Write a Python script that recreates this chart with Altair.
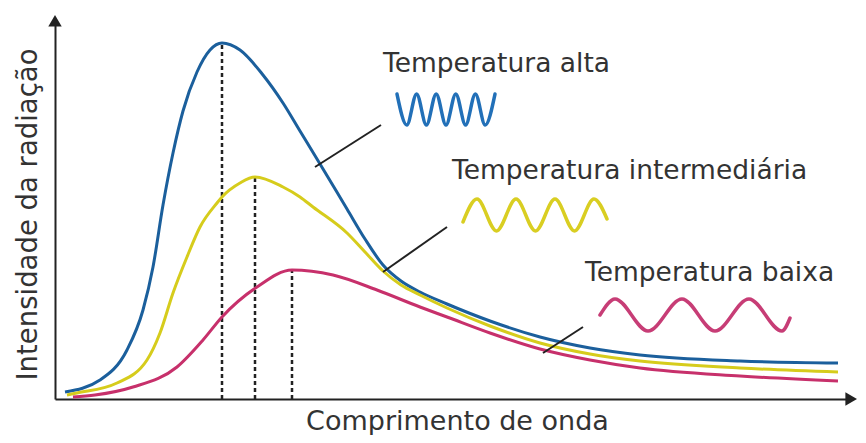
import altair as alt
import pandas as pd

# ---- values (arbitrary units: wavelength on x, intensity on y) ----
series = ["Temperatura alta", "Temperatura intermediária", "Temperatura baixa"]

alta_x = [10, 45, 72, 88, 98, 108, 118, 128, 142, 155, 167, 185, 208, 228, 245, 262, 292, 310, 328, 346, 365, 392, 435, 485, 535, 585, 685, 783]
alta_y = [7, 19, 49, 89, 132, 194, 246, 288, 327, 349, 356, 349, 324, 296, 268, 240, 190, 160, 134, 118, 107, 95, 78, 62, 51, 44, 38, 36]

inter_x = [12, 22, 62, 92, 105, 118, 132, 145, 162, 167, 185, 200, 228, 245, 258, 292, 310, 328, 346, 365, 392, 435, 485, 535, 585, 685, 783]
inter_y = [4, 6, 16, 39, 66, 106, 142, 172, 196, 202, 216, 222, 212, 202, 192, 166, 147, 128, 114, 104, 91, 73, 56, 45, 38, 31, 27]

baixa_x = [18, 40, 78, 122, 148, 167, 202, 237, 278, 322, 365, 392, 435, 485, 535, 585, 685, 783]
baixa_y = [2, 4, 12, 32, 59, 82, 112, 129, 124, 109, 92, 82, 66, 50, 39, 31, 23, 18]

# peaks (wavelength of maximum emission) with dashed drop lines
peak_x = [167, 200, 237]
peak_y = [356, 222, 129]

# wave pictograms (extrema points)
wave_alta_x = [342, 351.8, 361.6, 371.4, 381.2, 391, 400.8, 410.6, 420.4, 430.2, 440]
wave_alta_y = [305, 274, 305, 274, 305, 274, 305, 274, 305, 274, 305]
wave_inter_x = [408, 422, 441.5, 461, 480.5, 500, 519.5, 539, 552]
wave_inter_y = [177, 200, 168, 200, 168, 200, 168, 200, 180]
wave_baixa_x = [545, 560, 593, 627, 660, 694, 727, 735]
wave_baixa_y = [84, 100, 68, 100, 68, 100, 68, 81]

# label anchors and leader lines
label_x = [328, 397, 530]
label_y = [327, 220, 118]
leader_x1 = [260, 328, 488]
leader_y1 = [232, 127, 46]
leader_x2 = [326, 392, 528]
leader_y2 = [274, 172, 72]

curve_colors = ["#1b5f9c", "#d6cc1c", "#c7306b"]
wave_colors = ["#2270b8", "#d9ce22", "#c73d76"]

# ---- tables ----
rows = []
for name, xs, ys in zip(series, [alta_x, inter_x, baixa_x], [alta_y, inter_y, baixa_y]):
    for i, (a, b) in enumerate(zip(xs, ys)):
        rows.append({"s": name, "x": a, "y": b, "i": i})
curves = pd.DataFrame(rows)

rows = []
for name, xs, ys in zip(series, [wave_alta_x, wave_inter_x, wave_baixa_x], [wave_alta_y, wave_inter_y, wave_baixa_y]):
    for i, (a, b) in enumerate(zip(xs, ys)):
        rows.append({"s": "onda " + name, "x": a, "y": b, "i": i})
waves = pd.DataFrame(rows)

drops = pd.DataFrame({"x": peak_x, "y": [0, 0, 0], "y2": peak_y})
leaders = pd.DataFrame({"x": leader_x1, "y": leader_y1, "x2": leader_x2, "y2": leader_y2})
labels = pd.DataFrame({"x": label_x, "y": label_y, "t": series})
arrows = pd.DataFrame({"x": [796.2, 0], "y": [0, 378.2], "shape": ["triangle-right", "triangle-up"]})

xs_ = alt.Scale(domain=[0, 797], nice=False, zero=False)
ys_ = alt.Scale(domain=[0, 379], nice=False, zero=False)

xaxis = alt.Axis(title="Comprimento de onda", domain=True, domainColor="#222", domainWidth=2,
                 ticks=False, labels=False, grid=False, titleFont="DejaVu Sans", titleFontSize=27,
                 titleFontWeight="normal", titleColor="#333", titlePadding=9, titleX=402)
yaxis = alt.Axis(title="Intensidade da radiação", domain=True, domainColor="#222", domainWidth=2,
                 ticks=False, labels=False, grid=False, titleFont="DejaVu Sans", titleFontSize=27.5,
                 titleFontWeight="normal", titleColor="#333", titlePadding=13, titleY=194)

X = alt.X("x:Q", scale=xs_, axis=xaxis)
Y = alt.Y("y:Q", scale=ys_, axis=yaxis)

color = alt.Color("s:N", scale=alt.Scale(domain=series + ["onda " + s for s in series],
                                         range=curve_colors + wave_colors), legend=None)

drop_layer = alt.Chart(drops).mark_rule(strokeDash=[4, 3], strokeWidth=2.5, color="#222").encode(
    x=X, y=Y, y2="y2:Q")

curve_layer = alt.Chart(curves).mark_line(interpolate="monotone", strokeWidth=3).encode(
    x=X, y=Y, color=color, order="i:Q")

leader_layer = alt.Chart(leaders).mark_rule(strokeWidth=2, color="#222").encode(
    x=X, y=Y, x2="x2:Q", y2="y2:Q")

wave_layer = alt.Chart(waves).mark_line(interpolate="monotone", strokeWidth=3.5, strokeCap="round").encode(
    x=X, y=Y, color=color, order="i:Q")

label_layer = alt.Chart(labels).mark_text(align="left", baseline="alphabetic", font="DejaVu Sans",
                                          fontSize=26.5, color="#333").encode(x=X, y=Y, text="t:N")

arrow_layer = alt.Chart(arrows).mark_point(filled=True, size=180, opacity=1, color="#222").encode(
    x=X, y=Y, shape=alt.Shape("shape:N", scale=None))

chart = alt.layer(drop_layer, curve_layer, leader_layer, wave_layer, label_layer, arrow_layer).properties(
    width=797, height=379,
    autosize=alt.AutoSizeParams(type="none"),
    padding={"left": 47, "top": 12, "right": 6, "bottom": 36},
    background="white",
).configure_view(stroke=None)

chart.save("out.html", embed_options={"renderer": "svg", "actions": False})
